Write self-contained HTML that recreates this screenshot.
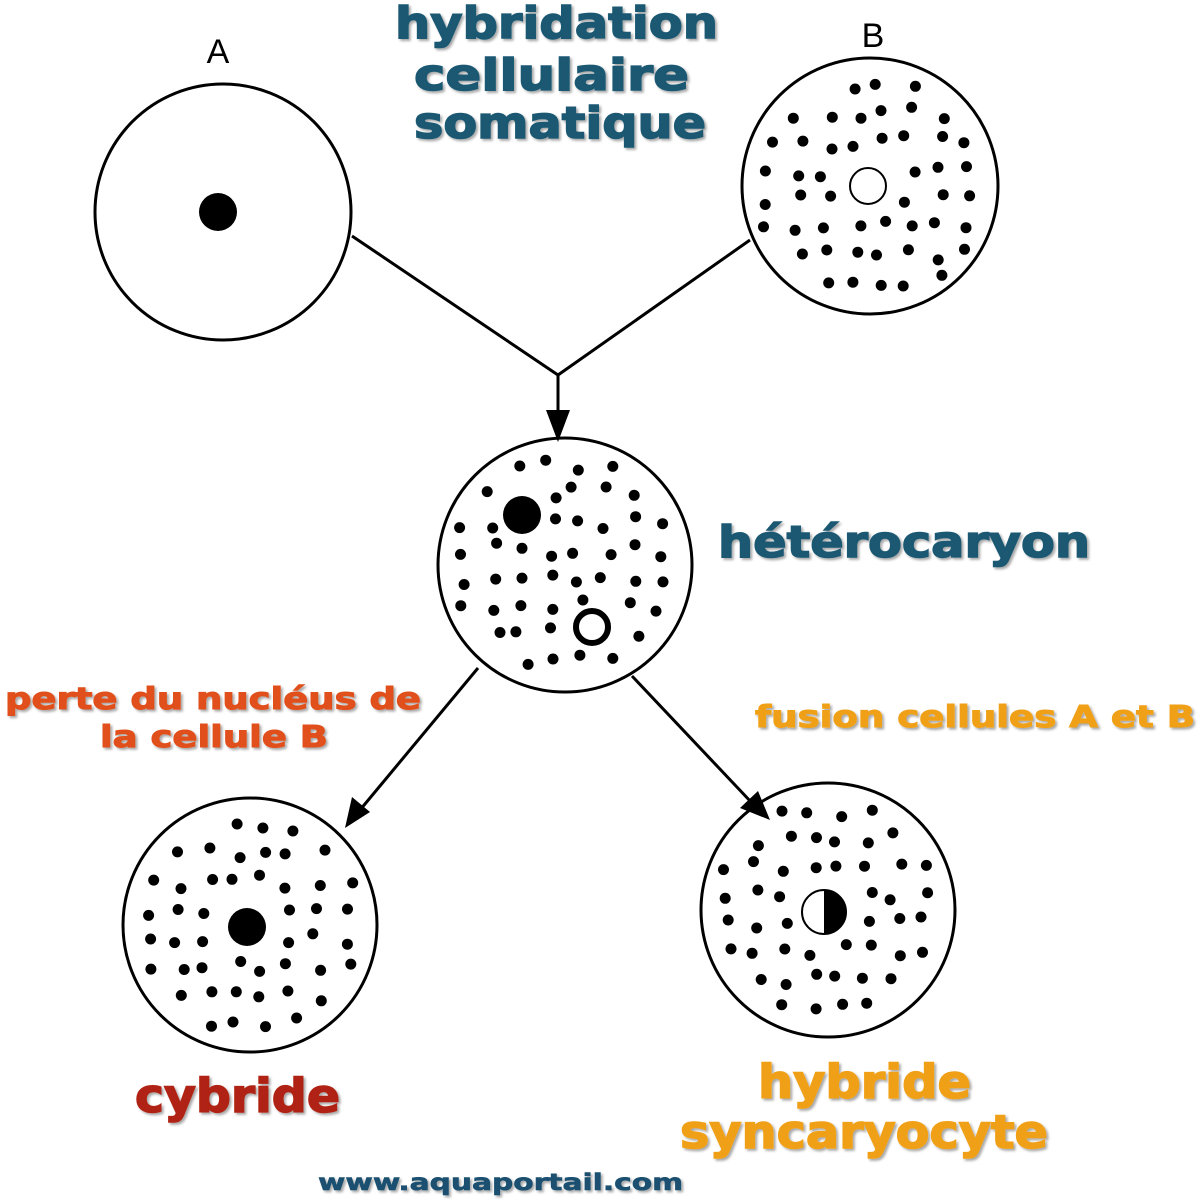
<!DOCTYPE html>
<html><head><meta charset="utf-8">
<style>
html,body{margin:0;padding:0;background:#fff;}
svg{display:block}
text{font-family:"DejaVu Sans","Liberation Sans",sans-serif;font-weight:bold;}
</style></head>
<body>
<svg id="s" width="1200" height="1200" viewBox="0 0 1200 1200" xmlns="http://www.w3.org/2000/svg">
<defs>
<filter id="sh" x="-5%" y="-20%" width="110%" height="140%">
<feDropShadow dx="2" dy="2" stdDeviation="1.2" flood-color="#000" flood-opacity="0.35"/>
</filter>
</defs>
<g fill="none" stroke="#000" stroke-width="3">
<circle cx="223" cy="212" r="128"/>
<circle cx="870" cy="186" r="128"/>
<circle cx="565" cy="565" r="127"/>
<circle cx="250" cy="925" r="127"/>
<circle cx="828" cy="910" r="127"/>
<polyline points="352,236 558,375 750,240"/>
<line x1="558" y1="375" x2="558" y2="415"/>
<line x1="478" y1="668" x2="360" y2="810"/>
<line x1="632" y1="676" x2="752" y2="803"/>
</g>
<polygon points="558,442 546,410 570,410" fill="#000"/>
<polygon points="345,828 352,797 370,812" fill="#000"/>
<polygon points="770,820 740,808 758,791" fill="#000"/>
<g id="dots" fill="#000"></g>
<circle cx="218" cy="212" r="19" fill="#000"/>
<circle cx="868" cy="186" r="18" fill="#fff" stroke="#000" stroke-width="2"/>
<circle cx="522" cy="515" r="19" fill="#000"/>
<circle cx="592" cy="627" r="16" fill="#fff" stroke="#000" stroke-width="6"/>
<circle cx="247" cy="927" r="19" fill="#000"/>
<circle cx="824" cy="912" r="22" fill="#fff" stroke="#000" stroke-width="2"/>
<path d="M824,890 A22,22 0 0 1 824,934 Z" fill="#000"/>
<text x="218" y="63" font-size="34" text-anchor="middle" style="font-weight:normal;font-family:'Liberation Sans',sans-serif">A</text>
<text x="873" y="47" font-size="34" text-anchor="middle" style="font-weight:normal;font-family:'Liberation Sans',sans-serif">B</text>
<g fill="#1a5872" stroke="#1a5872" stroke-width="1.5" filter="url(#sh)" font-size="44">
<text x="395" y="38" textLength="323" lengthAdjust="spacingAndGlyphs">hybridation</text>
<text x="414" y="90" textLength="275" lengthAdjust="spacingAndGlyphs">cellulaire</text>
<text x="414" y="138" textLength="292" lengthAdjust="spacingAndGlyphs">somatique</text>
<text x="718" y="557" textLength="372" lengthAdjust="spacingAndGlyphs">hétérocaryon</text>
</g>
<g filter="url(#sh)" font-size="30" stroke-width="1">
<text x="5" y="709" fill="#e0501a" stroke="#e0501a" textLength="416" lengthAdjust="spacingAndGlyphs">perte du nucléus de</text>
<text x="100" y="747" fill="#e0501a" stroke="#e0501a" textLength="228" lengthAdjust="spacingAndGlyphs">la cellule B</text>
<text x="755" y="727" fill="#f0a018" stroke="#f0a018" textLength="440" lengthAdjust="spacingAndGlyphs">fusion cellules A et B</text>
</g>
<g filter="url(#sh)" font-size="46" stroke-width="1.5">
<text x="135" y="1112" fill="#b02412" stroke="#b02412" textLength="205" lengthAdjust="spacingAndGlyphs">cybride</text>
<text x="758" y="1098" fill="#f0a018" stroke="#f0a018" textLength="213" lengthAdjust="spacingAndGlyphs">hybride</text>
<text x="680" y="1148" fill="#f0a018" stroke="#f0a018" textLength="368" lengthAdjust="spacingAndGlyphs">syncaryocyte</text>
</g>
<text x="318" y="1190" fill="#1a5070" stroke="#1a5070" stroke-width="0.6" font-size="23" filter="url(#sh)" textLength="365" lengthAdjust="spacingAndGlyphs">www.aquaportail.com</text>
</svg>
<script>
(function(){
var g=document.getElementById('dots');
var seed=11;function rnd(){seed=(seed*16807)%2147483647;return seed/2147483647;}
function fill(cx,cy,R,sp,ex){
 for(var y=cy-R;y<=cy+R;y+=sp){for(var x=cx-R;x<=cx+R;x+=sp){
  var px=x+(rnd()-0.5)*sp*0.5, py=y+(rnd()-0.5)*sp*0.5;
  var dx=px-cx,dy=py-cy; if(dx*dx+dy*dy>(R-13)*(R-13))continue;
  var skip=false;for(var i=0;i<ex.length;i++){var e=ex[i];var ax=px-e[0],ay=py-e[1];if(ax*ax+ay*ay<e[2]*e[2])skip=true;}
  if(skip)continue;
  var c=document.createElementNS('http://www.w3.org/2000/svg','circle');
  c.setAttribute('cx',px.toFixed(1));c.setAttribute('cy',py.toFixed(1));c.setAttribute('r',5.5);
  g.appendChild(c);
 }}
}
fill(870,186,128,28,[[868,186,28]]);
fill(565,565,127,28,[[522,515,28],[592,627,28]]);
fill(250,925,127,28,[[247,927,28]]);
fill(828,910,127,28,[[824,912,31]]);
})();
</script>
</body></html>
